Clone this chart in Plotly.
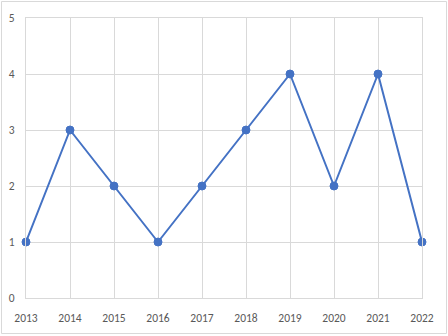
import plotly.graph_objects as go

years = [2013, 2014, 2015, 2016, 2017, 2018, 2019, 2020, 2021, 2022]
values = [1, 3, 2, 1, 2, 3, 4, 2, 4, 1]
y_ticks = [0, 1, 2, 3, 4, 5]

W, H = 448, 336
L, R, T, B = 26, 26, 18, 38
pw, ph = W - L - R, H - T - B

fig = go.Figure()
fig.add_trace(go.Scatter(
    x=years, y=values, mode="lines+markers",
    line=dict(color="#4472C4", width=2),
    marker=dict(color="#4472C4", size=8, line=dict(color="#4472C4", width=1)),
    cliponaxis=False, showlegend=False,
))

font = dict(family="Carlito, Liberation Sans, Arial, sans-serif", size=11.5, color="#595959")

fig.update_layout(
    width=W, height=H,
    margin=dict(l=L, r=R, t=T, b=B, pad=0),
    paper_bgcolor="white", plot_bgcolor="white",
    font=font,
    xaxis=dict(range=[2013, 2022], tickvals=years, ticktext=[str(y) for y in years],
               showgrid=True, gridcolor="#d9d9d9", gridwidth=1,
               showline=True, linecolor="#d9d9d9", linewidth=1, mirror=True,
               zeroline=False, ticks="outside", ticklen=9, tickcolor="rgba(0,0,0,0)",
               automargin=False),
    yaxis=dict(range=[0, 5], tickvals=y_ticks,
               showgrid=True, gridcolor="#d9d9d9", gridwidth=1,
               showline=True, linecolor="#d9d9d9", linewidth=1, mirror=True,
               zeroline=False, ticks="outside", ticklen=8, tickcolor="rgba(0,0,0,0)",
               automargin=False),
)

fig.add_shape(type="rect", xref="paper", yref="paper",
              x0=(1.5 - L) / pw, x1=(W - 1.5 - L) / pw,
              y0=(T + ph - (H - 2.5)) / ph, y1=(T + ph - 1.5) / ph,
              line=dict(color="#d9d9d9", width=1), layer="below")

fig.write_html("out.html", config={"displayModeBar": False},
               post_script="document.body.style.margin='0';document.body.style.overflow='hidden';")
